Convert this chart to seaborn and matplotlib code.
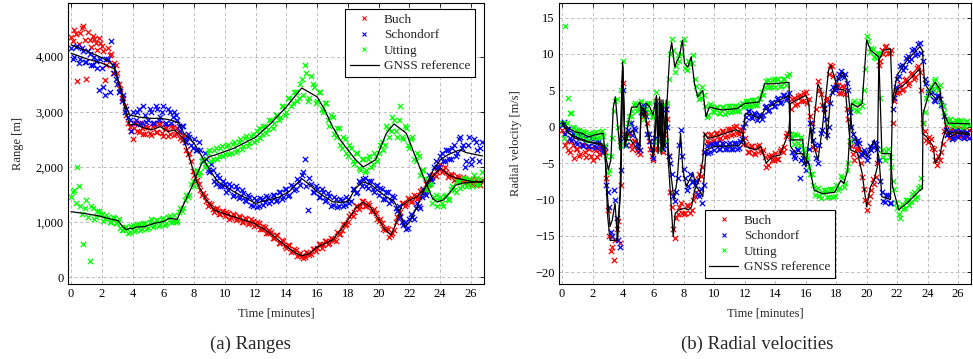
# Ranges and radial velocities of the three receivers vs. GNSS reference
import numpy as np
import matplotlib
matplotlib.use("Agg")
import matplotlib.pyplot as plt
import seaborn as sns
from matplotlib.lines import Line2D
from matplotlib.ticker import FuncFormatter

sns.set_theme(style="white")
plt.rcParams["font.family"] = ["Liberation Serif", "DejaVu Serif"]
plt.rcParams["mathtext.fontset"] = "stix"

# ---------------- data ----------------
# sample times of the measured points [minutes], two interleaved sets
T_MEAS = np.arange(0, 26.7, 0.2)
T_MEAS2 = np.arange(0.1, 26.8, 0.2)

# GNSS reference ranges [m]
BUCH_RT = [0, 0.5, 1, 1.5, 2, 2.5, 2.8, 3.2, 3.5, 3.8, 4.2, 4.6, 5.2, 5.8, 6.3, 6.7, 7.0,
           7.35, 7.8, 8.2, 8.7, 9.3, 10.2, 11.1, 11.9, 12.8, 13.6, 14.2, 14.6, 15.0, 15.5,
           16.0, 16.5, 17.0, 17.5, 18.0, 18.5, 19.0, 19.5, 20.0, 20.4, 20.8, 21.1, 21.5,
           22.0, 22.5, 23.0, 23.5, 24.0, 24.5, 25.0, 25.5, 26.0, 26.75]
BUCH_R = [4210, 4160, 4100, 4040, 3980, 3900, 3830, 3450, 3050, 2760, 2780, 2720, 2670,
          2730, 2640, 2670, 2600, 2490, 2070, 1710, 1440, 1220, 1130, 1050, 980, 830, 650,
          520, 440, 390, 430, 550, 610, 680, 850, 1040, 1250, 1360, 1260, 1050, 870, 770,
          950, 1300, 1400, 1460, 1610, 1820, 1980, 1860, 1800, 1770, 1740, 1720]

SCH_RT = [0, 0.5, 1, 1.5, 2, 2.5, 2.8, 3.2, 3.5, 3.8, 4.5, 5.2, 5.8, 6.3, 6.7, 7.0, 7.35,
          8.0, 8.9, 9.5, 10.6, 12.0, 12.5, 13.5, 14.2, 15.0, 15.5, 16.0, 16.5, 17.0, 17.5,
          18.0, 18.5, 19.0, 19.5, 20.0, 20.5, 21.0, 21.4, 21.7, 22.0, 22.5, 23.0, 23.5,
          24.0, 24.5, 25.0, 25.3, 25.7, 26.2, 26.75]
SCH_R = [4060, 4010, 3960, 3920, 3880, 3820, 3780, 3420, 3150, 2940, 2900, 2880, 2880,
         2860, 2830, 2800, 2600, 2430, 2000, 1740, 1550, 1340, 1380, 1450, 1560, 1790, 1680,
         1550, 1460, 1370, 1360, 1370, 1620, 1730, 1680, 1560, 1460, 1380, 1160, 920, 1000,
         1280, 1610, 1920, 2130, 2220, 2280, 2310, 2260, 2230, 2200]

UTT_RT = [0, 0.8, 1.7, 2.5, 3.05, 3.35, 3.6, 3.8, 4.0, 4.2, 4.8, 5.4, 6.0, 6.4, 6.9, 7.2,
          7.85, 8.5, 9.0, 9.4, 10.6, 12.0, 13.0, 14.0, 15.0, 16.0, 16.5, 17.0, 17.5, 18.0,
          18.5, 19.0, 19.8, 20.5, 21.0, 21.8, 22.3, 23.0, 23.5, 23.8, 24.2, 24.6, 25.0,
          25.5, 26.0, 26.75]
UTT_R = [1190, 1160, 1120, 1060, 1030, 920, 860, 890, 880, 910, 920, 980, 1010, 1070, 1050,
         1250, 1640, 2070, 2190, 2220, 2340, 2540, 2790, 3090, 3430, 3270, 3030, 2730, 2490,
         2310, 2130, 2000, 2130, 2610, 2780, 2610, 2250, 1760, 1430, 1370, 1400, 1520, 1670,
         1710, 1720, 1740]

# measured ranges [m], one value per T_MEAS / T_MEAS2 sample
BUCH_MR = [4350, 4480, 3560, 4420, 4550, 3600, 4300, 4380, 4250, 4330,
           4200, 3580, 4160, 4050, 3880, 3700, 3420, 3250, 2950, 2720,
           2510, 2800, 2640, 2700, 2600, 2720, 2580, 2760, 2640, 2780,
           2560, 2700, 2600, 2720, 2590, 2640, 2480, 2450, 2230, 2100,
           1850, 1760, 1580, 1530, 1380, 1350, 1230, 1240, 1150, 1200,
           1120, 1170, 1080, 1130, 1050, 1090, 1010, 1060, 980, 1020,
           950, 990, 880, 910, 810, 830, 720, 760, 630, 660,
           540, 580, 470, 500, 410, 380, 370, 440, 430, 520,
           530, 600, 580, 650, 620, 700, 660, 790, 850, 940,
           1010, 1150, 1180, 1300, 1290, 1390, 1300, 1310, 1200, 1160,
           1030, 990, 850, 880, 760, 860, 1100, 1180, 1350, 1330,
           1420, 1380, 1480, 1460, 1580, 1580, 1720, 1760, 1870, 1900,
           2050, 1950, 1900, 1850, 1860, 1790, 1820, 1760, 1780, 1730,
           1760, 1700, 1750, 1680]
BUCH_MR2 = [4280, 4400, 4220, 4520, 4300, 4450, 4180, 4320, 4120, 4250,
            4100, 3850, 4020, 3700, 3850, 3500, 3250, 3100, 2800, 2650,
            2700, 2650, 2790, 2600, 2750, 2620, 2740, 2640, 2800, 2620,
            2720, 2560, 2750, 2580, 2700, 2520, 2580, 2300, 2250, 1920,
            1750, 1700, 1500, 1480, 1300, 1330, 1180, 1260, 1140, 1210,
            1190, 1060, 1150, 1040, 1120, 1000, 1080, 960, 1050, 930,
            1000, 870, 930, 800, 850, 720, 770, 630, 680, 560,
            590, 460, 520, 390, 450, 360, 460, 400, 510, 480,
            610, 540, 660, 600, 720, 670, 830, 780, 970, 960,
            1120, 1120, 1290, 1240, 1380, 1300, 1350, 1210, 1230, 1050,
            1050, 870, 900, 740, 800, 1000, 1100, 1350, 1300, 1430,
            1360, 1500, 1420, 1560, 1540, 1690, 1700, 1860, 1840, 2000,
            1910, 2000, 1820, 1880, 1770, 1840, 1740, 1810, 1720, 1790,
            1690, 1780, 1700, 1760]
SCH_MR = [4150, 4000, 4200, 3950, 4100, 3900, 4050, 3850, 3920, 3400,
          3800, 3300, 3950, 4280, 3700, 3500, 3380, 3300, 3050, 2850,
          3000, 2850, 3050, 2800, 2950, 2850, 3000, 2800, 3050, 2900,
          3100, 2800, 3000, 2900, 2950, 2750, 2750, 2500, 2600, 2400,
          2500, 2300, 2300, 2100, 2150, 1900, 1950, 1700, 1800, 1650,
          1700, 1580, 1650, 1500, 1600, 1450, 1520, 1380, 1450, 1300,
          1400, 1300, 1420, 1360, 1450, 1380, 1500, 1400, 1550, 1450,
          1600, 1500, 1650, 1600, 1750, 1850, 2150, 1220, 1700, 1550,
          1600, 1450, 1550, 1400, 1480, 1320, 1420, 1300, 1400, 1320,
          1420, 1380, 1600, 1550, 1720, 1780, 1650, 1740, 1600, 1650,
          1500, 1600, 1420, 1550, 1380, 1450, 1200, 1100, 950, 880,
          1050, 1100, 1250, 1300, 1450, 1550, 1700, 1800, 2000, 2000,
          2200, 2100, 2300, 2150, 2350, 2200, 2500, 2350, 2000, 2400,
          2050, 2500, 2300, 2350]
SCH_MR2 = [3950, 4180, 3880, 4150, 3900, 4100, 3850, 4000, 3800, 3950,
           3450, 3950, 3350, 3850, 3600, 3350, 3200, 3000, 2900, 2650,
           2800, 3000, 2780, 3100, 2820, 3050, 2800, 3100, 2850, 3000,
           2780, 3050, 2800, 3000, 2850, 2650, 2750, 2450, 2550, 2350,
           2300, 2450, 2100, 2250, 1950, 2050, 1750, 1850, 1650, 1750,
           1550, 1700, 1480, 1650, 1430, 1580, 1400, 1500, 1320, 1430,
           1280, 1430, 1320, 1470, 1350, 1500, 1380, 1550, 1420, 1600,
           1480, 1680, 1580, 1780, 1680, 1900, 1650, 1800, 1550, 1650,
           1450, 1600, 1380, 1520, 1300, 1450, 1280, 1420, 1300, 1450,
           1350, 1600, 1530, 1750, 1650, 1800, 1620, 1750, 1550, 1680,
           1620, 1420, 1550, 1350, 1480, 1250, 1300, 1000, 1000, 900,
           1150, 1050, 1350, 1250, 1600, 1500, 1850, 1750, 2100, 2000,
           2250, 2100, 2300, 2150, 2400, 2250, 2550, 2400, 2100, 2550,
           2150, 2450, 2100, 2450]
UTT_MR = [1450, 1580, 2000, 1300, 600, 1400, 300, 1250, 1100, 1200,
          1150, 1050, 1100, 1000, 1080, 980, 900, 850, 920, 820,
          950, 850, 960, 880, 980, 900, 1050, 950, 1040, 960,
          1080, 980, 1120, 1010, 1000, 1180, 1200, 1400, 1450, 1700,
          1650, 1950, 1900, 2150, 2050, 2300, 2150, 2350, 2200, 2380,
          2230, 2400, 2260, 2450, 2300, 2500, 2380, 2560, 2430, 2600,
          2480, 2700, 2600, 2750, 2680, 2850, 2800, 2950, 2900, 3100,
          3000, 3250, 3150, 3350, 3250, 3600, 3850, 3200, 3650, 3450,
          3200, 3350, 3000, 3150, 2750, 2900, 2550, 2700, 2350, 2500,
          2200, 2350, 2050, 2250, 1950, 2150, 1950, 2200, 2050, 2200,
          2250, 2450, 2400, 2700, 2650, 2850, 2550, 3100, 2500, 2700,
          2350, 2550, 2100, 2200, 1950, 1800, 1600, 1700, 1450, 1300,
          1450, 1300, 1500, 1400, 1650, 1550, 1750, 1650, 1800, 1680,
          1750, 1850, 1680, 1780]
UTT_MR2 = [1550, 1350, 1650, 1150, 1250, 1100, 1300, 1050, 1200, 1150,
           1020, 1130, 1000, 1100, 980, 1050, 850, 920, 800, 930,
           840, 970, 860, 980, 880, 1000, 920, 1040, 930, 1060,
           950, 1100, 1000, 1130, 1020, 1250, 1250, 1500, 1500, 1750,
           1900, 1850, 2100, 2000, 2250, 2100, 2300, 2150, 2350, 2200,
           2380, 2230, 2420, 2270, 2450, 2330, 2520, 2380, 2560, 2450,
           2650, 2520, 2750, 2620, 2850, 2700, 2950, 2850, 3100, 2950,
           3250, 3100, 3350, 3200, 3500, 3300, 3700, 3250, 3500, 3150,
           3350, 3050, 3150, 2850, 2950, 2600, 2700, 2400, 2550, 2250,
           2400, 2100, 2250, 1980, 2150, 1900, 2150, 2000, 2250, 2100,
           2400, 2300, 2750, 2550, 2900, 2650, 2850, 2550, 2750, 2400,
           2500, 2150, 2250, 1850, 1950, 1600, 1700, 1350, 1500, 1400,
           1350, 1480, 1420, 1600, 1580, 1750, 1620, 1800, 1650, 1780,
           1650, 1800, 1700, 1900]

# GNSS reference radial velocities [m/s]
BUCH_VT = [0, 0.45, 0.9, 1.75, 2.6, 2.8, 3.0, 3.15, 3.6, 3.7, 3.87, 3.98, 4.13, 4.5, 4.8,
           5.1, 5.2, 5.45, 5.65, 6.0, 6.1, 6.2, 6.3, 6.5, 6.63, 6.85, 6.96, 7.17, 7.3, 7.43,
           7.7, 8.0, 8.3, 8.5, 8.7, 9.0, 9.24, 9.35, 9.56, 10.0, 11.0, 11.4, 11.85, 12.03,
           12.7, 13.05, 13.4, 13.8, 14.3, 14.7, 14.9, 15.0, 15.8, 16.0, 16.2, 16.4, 16.8,
           17.0, 17.2, 17.5, 17.66, 18.1, 18.6, 18.96, 19.4, 19.7, 20.0, 20.26, 20.5, 20.7,
           20.8, 21.1, 21.56, 21.7, 22.0, 22.4, 22.86, 23.5, 23.66, 23.94, 24.37, 24.5,
           24.8, 25.0, 25.2, 25.45, 25.9, 26.75]
BUCH_V = [0.5, -0.9, -1.4, -2.1, -2.5, -2.7, -12.4, -15.6, -15.6, -12.4, -7.8, 8.2, -1.8,
          -1.8, -2.7, -3.2, 2.7, 2.3, -0.9, -4.1, -2.3, 4.1, -3.7, 3.7, -3.2, 3.7, -4.1,
          -11.0, -15.1, -11.9, -11.4, -11.2, -11.4, -11.0, -8.7, -7.3, -4.6, -0.9, -1.6,
          -1.4, -0.7, -0.4, -0.9, -2.7, -3.2, -2.7, -5.0, -4.1, -3.9, -1.8, -0.5, 3.2, 4.1,
          4.3, 3.2, -2.3, 5.9, 5.0, 1.8, 7.8, 8.4, 5.2, 5.0, -3.2, -3.6, -6.4, -11.0, -8.2,
          -7.3, -5.5, 9.1, 10.5, 10.7, 3.2, 5.2, 5.7, 6.6, 8.0, -0.9, -1.4, -2.7, -5.0,
          -4.1, -1.8, -0.2, -0.9, -0.7, -0.9]

SCH_VT = [0, 0.45, 0.87, 1.74, 2.6, 2.83, 3.0, 3.15, 3.3, 3.48, 3.65, 3.8, 3.98, 4.13,
          4.35, 4.67, 4.9, 5.1, 5.2, 5.43, 5.65, 5.98, 6.2, 6.3, 6.5, 6.63, 6.85, 6.96,
          7.17, 7.35, 7.56, 7.78, 7.93, 8.15, 8.37, 8.6, 8.8, 9.0, 9.24, 9.45, 10.0, 11.6,
          11.85, 12.03, 12.5, 12.95, 13.3, 13.8, 14.5, 14.9, 15.0, 15.35, 15.8, 16.0, 16.3,
          16.55, 16.8, 17.1, 17.26, 17.4, 17.63, 17.96, 18.4, 18.7, 19.05, 19.6, 20.0,
          20.5, 20.8, 21.0, 21.56, 21.7, 22.0, 22.64, 23.5, 23.66, 23.8, 24.2, 24.6, 24.8,
          25.0, 25.2, 25.45, 25.9, 26.75]
SCH_V = [0.5, -0.9, -1.6, -2.1, -2.3, -3.7, -10.0, -13.7, -12.8, -10.5, -15.6, -10.0, 8.2,
         -2.7, -0.9, -0.5, -1.8, -2.7, 2.7, 1.8, -0.9, -4.1, 3.7, -2.7, 3.2, -3.2, 3.2,
         -2.7, -6.9, -10.0, -7.3, -0.9, -5.9, -8.2, -7.3, -6.4, -8.2, -8.7, -9.6, -3.2,
         -2.7, -2.6, -2.0, 1.8, 1.6, 1.1, 2.3, 3.0, 3.9, 4.3, -2.7, -3.7, -3.7, -5.5, 0.0,
         -2.7, -4.6, 0.0, 3.2, -1.8, 4.1, 5.7, 7.5, 6.4, -0.5, -3.2, -4.1, -1.8, -4.1,
         -9.6, -10.0, 3.7, 7.1, 9.1, 11.0, 10.5, 6.0, 4.6, 3.7, 4.3, 2.3, 0.0, -1.4, -0.9,
         -1.1]

UTT_VT = [0, 0.43, 0.87, 1.3, 1.74, 2.17, 2.7, 2.83, 3.04, 3.2, 3.37, 3.5, 3.7, 3.8, 3.98,
          4.13, 4.35, 4.57, 4.9, 5.1, 5.33, 5.54, 5.76, 5.98, 6.2, 6.3, 6.4, 6.5, 6.63,
          6.74, 6.9, 7.07, 7.2, 7.4, 7.56, 7.7, 7.9, 8.04, 8.26, 8.48, 8.7, 8.9, 9.24,
          9.45, 9.67, 10.5, 11.5, 12.0, 12.95, 13.3, 13.8, 14.9, 15.0, 15.8, 15.9, 16.2,
          16.55, 17.1, 17.9, 18.3, 18.5, 18.75, 19.0, 19.4, 19.7, 20.0, 20.26, 20.8, 21.0,
          21.56, 21.7, 22.1, 22.64, 23.5, 23.66, 23.7, 24.15, 24.5, 24.8, 25.0, 25.35,
          26.75]
UTT_V = [0.7, -0.2, -0.7, -0.9, -1.4, -1.1, -0.9, -3.7, -5.9, -4.6, 2.7, 4.1, -0.9, -3.2,
         8.9, -2.7, 0.5, 2.7, 2.7, 3.4, 1.4, 3.2, 2.7, 1.6, 4.3, -2.7, 4.1, -3.7, 3.7,
         -2.7, 3.7, 10.0, 11.6, 8.2, 9.1, 9.6, 11.9, 8.7, 8.2, 9.6, 5.9, 4.1, 5.0, 1.4,
         2.7, 2.3, 2.5, 3.2, 3.4, 5.9, 5.9, 6.1, -1.8, -1.8, -4.1, -5.0, -8.7, -9.2, -9.0,
         -7.4, -7.8, -6.0, 3.2, 2.7, 3.2, 11.9, 10.5, 9.6, -3.7, -3.7, -8.2, -11.4,
         -10.5, -8.7, -8.5, 1.8, 5.0, 6.1, 5.2, 2.3, 0.5, 0.4]

# measured radial velocities [m/s], one value per T_MEAS / T_MEAS2 sample
BUCH_MV = [-0.5, -2.5, -3.2, -2.0, -4.3, -3.0, -3.8, -2.5, -4.2, -3.0,
           -4.5, -3.2, -3.8, -2.8, -3.5, -11.5, -17.0, -18.3, -14.0, -16.0,
           6.0, -2.5, -1.0, -3.0, -2.0, -3.5, 3.0, 1.5, 0.5, -3.0,
           -4.6, 3.5, -1.0, -3.5, 2.5, -4.0, -11.0, -15.3, -12.0, -10.5,
           -12.0, -10.8, -11.8, -10.0, -9.0, -6.5, -5.5, -1.0, -2.2, -1.0,
           -1.8, -0.8, -1.6, -0.6, -1.3, -0.3, -1.0, 0.1, -1.0, -0.4,
           -1.5, -3.4, -2.6, -3.6, -2.6, -3.3, -3.2, -5.5, -4.0, -4.6,
           -3.6, -4.4, -3.0, -2.8, -0.8, 2.5, 3.9, 3.1, 4.4, 3.6,
           4.8, 3.8, 0.5, -3.0, 6.3, 4.5, 2.5, 4.0, 8.5, 7.0,
           5.7, 4.7, 5.6, 4.5, 1.0, -2.7, -4.5, -3.1, -5.0, -8.5,
           -11.5, -9.5, -7.2, -6.9, 8.5, 10.6, 11.0, 10.1, 10.5, 3.5,
           4.6, 5.9, 5.2, 6.6, 6.0, 7.4, 6.8, 8.3, 5.0, -0.6,
           -2.1, -1.7, -3.0, -5.2, -4.6, -2.3, 0.3, -1.5, -0.3, -1.2,
           -0.3, -1.3, -0.4, -1.4]
BUCH_MV2 = [-1.0, -2.0, -3.5, -2.5, -3.0, -4.0, -2.5, -3.5, -2.8, -4.0,
            -3.0, -4.2, -3.1, -3.4, -7.0, -15.0, -16.5, -15.5, -13.0, -8.0,
            -1.0, -1.2, -2.5, -2.0, -3.2, -3.8, 2.0, 2.0, -2.0, -4.0,
            -3.0, -3.0, 3.0, -1.0, 1.0, -9.0, -14.0, -12.5, -11.0, -11.8,
            -11.8, -10.9, -11.5, -9.5, -7.2, -6.8, -3.5, -1.9, -1.1, -2.0,
            -0.9, -1.7, -0.6, -1.4, -0.3, -1.1, 0.0, -0.9, -0.3, -2.3,
            -2.4, -3.4, -2.6, -3.7, -2.5, -3.5, -4.1, -5.2, -3.9, -4.5,
            -4.4, -3.3, -3.4, -1.3, -1.0, 3.8, 3.0, 4.2, 3.5, 4.7,
            3.3, 1.5, -2.8, 2.5, 5.0, 3.0, 3.5, 7.3, 8.3, 5.3,
            5.7, 4.7, 5.5, 2.5, -2.0, -3.8, -3.0, -4.0, -6.9, -10.0,
            -10.5, -8.7, -7.8, -5.0, 9.1, 10.0, 11.1, 10.2, 0.5, 5.0,
            4.8, 5.1, 6.4, 5.8, 7.2, 6.6, 8.1, 7.5, 0.5, -1.8,
            -1.4, -2.9, -4.5, -4.0, -3.4, -0.6, -1.0, -0.4, -1.3, -0.2,
            -1.2, -0.3, -1.3, -0.5]
SCH_MV = [0.2, -1.0, -0.3, -1.8, -1.0, -2.3, -1.2, -2.6, -1.5, -2.7,
          -1.7, -2.8, -1.9, -3.0, -2.8, -9.0, -14.5, -8.7, -12.5, -16.5,
          5.0, -2.5, 0.5, -1.2, -0.5, -2.8, 2.0, 2.5, -1.0, -2.0,
          -4.3, 3.0, 1.0, -3.0, 2.5, -4.0, -6.5, -10.2, -7.0, -0.5,
          -5.8, -8.7, -6.5, -7.5, -7.5, -9.5, -10.5, -3.5, -3.6, -2.4,
          -3.2, -2.2, -3.1, -2.3, -3.0, -2.2, -3.0, -2.2, -2.9, -1.7,
          0.5, 2.2, 1.3, 1.9, 0.9, 1.6, 1.6, 2.8, 2.3, 3.4,
          2.9, 3.9, 3.4, 4.4, 3.9, -1.5, -4.0, -3.0, -7.0, -4.3,
          -6.0, -3.0, -0.5, -2.5, -5.0, -0.8, 2.6, -1.2, 3.2, 5.4,
          5.4, 7.2, 7.0, 7.3, 5.0, 0.0, -1.7, -1.8, -3.7, -3.2,
          -4.6, -2.7, -2.8, -2.4, -4.6, -9.0, -10.3, -9.4, -10.5, 4.0,
          6.5, 8.3, 7.8, 9.5, 9.0, 10.5, 9.8, 11.3, 10.2, 6.5,
          4.8, 5.1, 3.7, 4.2, 3.8, 2.8, -0.5, -0.7, -1.7, -0.5,
          -1.4, -0.6, -1.5, -0.7]
SCH_MV2 = [0.6, -0.3, -1.5, -0.8, -2.1, -1.3, -2.4, -1.5, -2.6, -1.6,
           -2.7, -1.8, -2.8, -3.5, -8.0, -11.0, -15.0, -10.0, -15.5, -6.0,
           -1.5, -0.5, 0.5, -0.2, -2.3, -3.2, 3.0, 1.5, -1.0, -3.0,
           -1.5, -2.0, 2.7, -2.5, 0.0, -5.0, -9.5, -9.0, -2.5, -4.0,
           -7.0, -8.2, -7.6, -8.0, -9.2, -8.5, -8.0, -2.6, -3.5, -2.4,
           -2.3, -3.1, -2.2, -3.0, -2.3, -3.1, -2.2, -3.0, -2.0, 0.0,
           1.3, 2.1, 1.2, 1.8, 1.6, 1.1, 2.7, 2.2, 3.2, 2.8,
           3.8, 3.3, 4.3, 3.7, 4.6, -3.5, -4.3, -3.2, -4.5, -5.0,
           -4.8, 0.5, -1.8, -4.3, -2.5, -0.5, 1.0, 0.0, 4.8, 5.0,
           6.7, 7.6, 6.8, 6.0, 2.0, -1.0, -2.3, -2.2, -3.9, -3.5,
           -4.0, -3.2, -2.2, -3.0, -7.5, -10.2, -9.4, -10.5, 2.5, 5.5,
           7.0, 8.5, 8.2, 9.7, 9.3, 10.7, 10.0, 11.5, 9.0, 6.0,
           4.4, 4.8, 3.5, 4.4, 3.0, 1.5, -1.1, -0.9, -1.5, -1.3,
           -0.6, -1.4, -0.8, -1.5]
UTT_MV = [0.5, 13.8, 4.0, 1.9, -0.2, -0.5, -1.4, -0.6, -1.7, -0.9,
          -1.6, -0.7, -1.4, -0.6, -2.5, -6.3, -4.0, 2.2, 3.8, -2.5,
          9.0, -1.5, 1.5, 2.2, 3.2, 2.6, 3.5, 1.0, 3.3, 2.0,
          1.3, 4.8, 2.5, 3.0, -2.0, 6.5, 12.0, 7.5, 9.8, 10.0,
          12.0, 7.8, 8.6, 9.8, 5.6, 3.8, 5.5, 2.8, 1.6, 2.9,
          2.0, 2.7, 1.9, 2.7, 2.0, 2.8, 2.1, 2.9, 2.2, 3.3,
          2.8, 3.6, 2.9, 3.7, 3.0, 3.9, 4.4, 6.3, 5.5, 6.4,
          5.5, 6.5, 5.6, 6.6, 7.0, -1.0, -2.4, -1.2, -2.5, -3.0,
          -4.0, -5.5, -6.5, -9.4, -8.4, -9.8, -8.7, -9.7, -8.6, -9.6,
          -8.0, -8.4, -7.0, -7.7, -5.0, 2.6, 3.5, 2.2, 3.5, 5.0,
          12.4, 10.3, 10.7, 9.4, 10.1, -3.2, -4.5, -3.0, -5.5, -8.5,
          -11.2, -12.5, -11.3, -10.0, -10.7, -9.2, -9.9, -8.4, -7.0, 2.0,
          4.5, 5.6, 6.3, 5.4, 5.7, 2.8, 1.0, 0.9, 0.1, 0.9,
          0.1, 0.9, 0.0, 0.8]
UTT_MV2 = [-1.5, 0.5, 1.9, 0.0, -1.0, -0.4, -1.3, -0.7, -1.8, -1.0,
           -0.8, -1.5, -0.7, -1.3, -4.0, -6.0, -1.5, 3.5, 0.0, 5.0,
           -2.5, 0.5, 1.5, 3.0, 2.2, 3.0, 2.0, 2.5, 3.2, 1.5,
           3.5, -2.0, -3.0, 0.5, 3.2, 10.0, 10.5, 8.3, 9.1, 11.5,
           8.1, 9.0, 8.8, 6.5, 4.6, 4.0, 4.4, 1.3, 3.1, 2.2,
           2.7, 1.9, 2.7, 1.8, 2.8, 2.0, 2.9, 2.2, 3.0, 2.7,
           3.6, 2.9, 3.7, 3.0, 3.8, 4.8, 5.5, 6.4, 5.5, 6.5,
           6.5, 5.6, 6.6, 5.7, 7.3, -1.5, -1.0, -2.2, -1.4, -3.5,
           -4.3, -6.5, -8.0, -8.5, -9.5, -9.0, -8.7, -9.6, -8.6, -9.5,
           -8.7, -6.8, -8.3, -6.0, -2.0, 3.3, 2.3, 3.3, 2.8, 8.0,
           11.8, 10.8, 9.6, 10.2, 4.0, -4.2, -3.3, -4.2, -7.5, -10.5,
           -12.0, -10.6, -11.2, -10.0, -10.3, -9.0, -9.6, -8.2, 0.5, 4.0,
           5.0, 5.2, 6.5, 5.0, 3.2, 2.0, 0.5, 1.0, 0.2, 0.8,
           0.8, 0.1, 0.7, 0.2]

NAMES = ["Buch", "Schondorf", "Utting"]
COLORS = ["#ff0000", "#0000ff", "#00ff00"]
X_TICKS = list(range(0, 27, 2))

# ---------------- figure ----------------
fig = plt.figure(figsize=(9.73, 3.59), dpi=100)
ax1 = fig.add_axes([68 / 973, 1 - 284 / 359, 416 / 973, 281 / 359])
ax2 = fig.add_axes([559 / 973, 1 - 284 / 359, 412 / 973, 281 / 359])


def draw_panel(ax, meas, refs):
    # measured points: both interleaved sample sets per station
    for (v1, v2), col in zip(meas, COLORS):
        t_all = np.concatenate([T_MEAS, T_MEAS2])
        v_all = np.concatenate([v1, v2])
        sns.scatterplot(x=t_all, y=v_all, marker="x", color=col, s=15,
                        linewidth=0.9, ax=ax, zorder=2, legend=False)
    for t, v in refs:
        sns.lineplot(x=t, y=v, color="black", lw=0.9, ax=ax, zorder=3,
                     estimator=None, sort=False)
    ax.set_xlim(-0.2, 26.85)
    ax.set_xticks(X_TICKS)
    ax.grid(True, ls=(0, (4, 3)), color="#b3b3b3", lw=0.6, zorder=0)
    ax.tick_params(direction="in", length=3, width=0.6, top=True, right=True,
                   labelsize=9, pad=3, colors="black")
    for sp in ax.spines.values():
        sp.set_color("black")
        sp.set_linewidth(0.8)
    ax.set_xlabel("Time [minutes]", fontsize=9)
    ax.xaxis.set_label_coords(0.5, -0.085)


def add_legend(ax, loc, anchor):
    handles = [Line2D([], [], ls="none", marker="x", color=c, ms=3.5, mew=0.8, label=n)
               for n, c in zip(NAMES, COLORS)]
    handles.append(Line2D([], [], color="black", lw=0.9, label="GNSS reference"))
    leg = ax.legend(handles=handles, loc=loc, bbox_to_anchor=anchor, borderaxespad=0,
                    fancybox=False, framealpha=1, edgecolor="black", fontsize=9.5,
                    handlelength=2.2, handletextpad=0.4, labelspacing=0.25,
                    borderpad=0.35)
    leg.get_frame().set_linewidth(0.8)
    leg.set_zorder(5)


# (a) Ranges
draw_panel(ax1, [(BUCH_MR, BUCH_MR2), (SCH_MR, SCH_MR2), (UTT_MR, UTT_MR2)],
           [(BUCH_RT, BUCH_R), (SCH_RT, SCH_R), (UTT_RT, UTT_R)])
ax1.set_ylim(-120, 4970)
ax1.set_yticks([0, 1000, 2000, 3000, 4000])
ax1.yaxis.set_major_formatter(FuncFormatter(lambda v, p: f"{int(v):,}"))
ax1.set_ylabel("Range [m]", fontsize=9)
ax1.yaxis.set_label_coords(-0.105, 0.5)
add_legend(ax1, "upper right", (0.978, 0.979))

# (b) Radial velocities
draw_panel(ax2, [(BUCH_MV, BUCH_MV2), (SCH_MV, SCH_MV2), (UTT_MV, UTT_MV2)],
           [(BUCH_VT, BUCH_V), (SCH_VT, SCH_V), (UTT_VT, UTT_V)])
ax2.set_ylim(-21.6, 17.0)
ax2.set_yticks([-20, -15, -10, -5, 0, 5, 10, 15])
ax2.set_ylabel("Radial velocity [m/s]", fontsize=9)
ax2.yaxis.set_label_coords(-0.09, 0.5)
add_legend(ax2, "lower left", (0.354, 0.021))

# captions
fig.text(250 / 973, 1 - 344 / 359, "(a) Ranges", ha="center", va="center", fontsize=13.5)
fig.text(757 / 973, 1 - 344 / 359, "(b) Radial velocities", ha="center", va="center",
         fontsize=13.5)

fig.savefig("out.png", dpi=100)
